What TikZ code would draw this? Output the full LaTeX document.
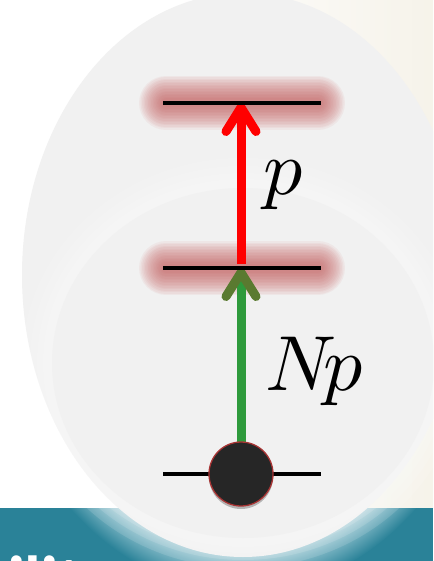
\documentclass[tikz,border=0pt]{standalone}
\usepackage{fontspec}
\usepackage{unicode-math}
\setmathfont{Latin Modern Math}
\newfontfamily\titlefont{Carlito}
\usetikzlibrary{arrows.meta,shadows}
\definecolor{bgwhite}{HTML}{FFFFFF}
\definecolor{cream}{HTML}{EEE8D8}
\definecolor{barteal}{HTML}{2A8298}
\definecolor{glowlight}{HTML}{C8E1E7}
\definecolor{glowmid}{HTML}{7FB7C5}
\definecolor{ellgrey}{HTML}{F1F1F1}
\definecolor{glowred}{HTML}{C45A5A}
\definecolor{levred}{HTML}{FF0000}
\definecolor{levgreen}{HTML}{2E9A3C}
\definecolor{tipgreen}{HTML}{5A7A30}
\definecolor{balldark}{HTML}{262626}
\definecolor{ballrim}{HTML}{A83434}
\pgfdeclareradialshading{tealglow}{\pgfpoint{0bp}{0bp}}{color(0bp)=(glowlight);color(21.5bp)=(glowlight);color(23bp)=(glowmid);color(25bp)=(barteal);color(50bp)=(barteal)}
\pgfdeclarehorizontalshading{creamshade}{100bp}{color(0bp)=(bgwhite);color(45bp)=(bgwhite);color(100bp)=(cream)}
\tikzset{
  level/.style={line width=4.5pt, black},
  redglow/.style={glowred, opacity=0.065, line cap=round},
  redarrow/.style={levred, line width=9pt, -{Straight Barb[length=24pt, width=30pt, line width=9pt, round]}},
  greenarrow/.style={levgreen, line width=9pt, -{Straight Barb[length=24pt, width=30pt, line width=9pt, round, color=tipgreen]}},
  ball/.style={circle, fill=balldark, draw=ballrim, line width=1.3pt, minimum size=64pt, inner sep=0pt,
    drop shadow={shadow xshift=0pt, shadow yshift=-3pt, opacity=0.25, fill=black}},
  lbl/.style={font=\fontsize{78}{78}\selectfont, inner sep=0pt, anchor=base west},
  title/.style={font=\titlefont\bfseries\fontsize{68}{68}\selectfont, text=white, inner sep=0pt, anchor=base west}
}
\begin{document}
\begin{tikzpicture}[x=1pt, y=-1pt]
\useasboundingbox (0,0) rectangle (433,561);
\begin{scope}
\clip (0,0) rectangle (433,561);
% background
\shade[shading=creamshade] (0,0) rectangle (433,508);
\fill[barteal] (0,508) rectangle (433,561);
\begin{scope}
\clip (0,508) rectangle (433,561);
\shade[shading=tealglow] (243,275) ellipse [x radius=256, y radius=317];
\end{scope}
% title fragment
\node[title] (title) at (8,603) {ilit};
% outer ellipse
\fill[ellgrey] (243,275) ellipse [x radius=221, y radius=282];
% inner ellipse with soft light rim
\foreach \w in {60,44,30,18} {
  \draw[white, opacity=0.12, line width=\w pt] (243,363) ellipse [x radius=191, y radius=175];
}
\fill[ellgrey] (243,363) ellipse [x radius=191, y radius=175];
% level coordinates
\coordinate (t1) at (163,103); \coordinate (t2) at (321,103); \coordinate (tc) at (241,103);
\coordinate (m1) at (163,268); \coordinate (m2) at (321,268); \coordinate (mc) at (241,268);
\coordinate (b1) at (163,474); \coordinate (b2) at (321,474); \coordinate (bc) at (241,474);
% red glows
\foreach \w in {54,51,48,45,42,39,36,33,30,27,24,21,18,15,12,9} {
  \draw[redglow, line width=\w pt] (166,103) -- (318,103);
  \draw[redglow, line width=\w pt] (166,268) -- (318,268);
}
% arrows
\draw[greenarrow] (bc) -- (mc);
\draw[redarrow] (241,264) -- (tc);
% levels
\draw[level] (t1) -- (t2);
\draw[level] (m1) -- (m2);
\draw[level] (b1) -- (b2);
% ball
\node[ball] (ball) at (bc) {};
% labels
\node[lbl] (lp) at (263,194) {$p$};
\node[lbl] (lnp) at (265,390) {$N\mkern-3mu p$};
\end{scope}
\end{tikzpicture}
\end{document}
